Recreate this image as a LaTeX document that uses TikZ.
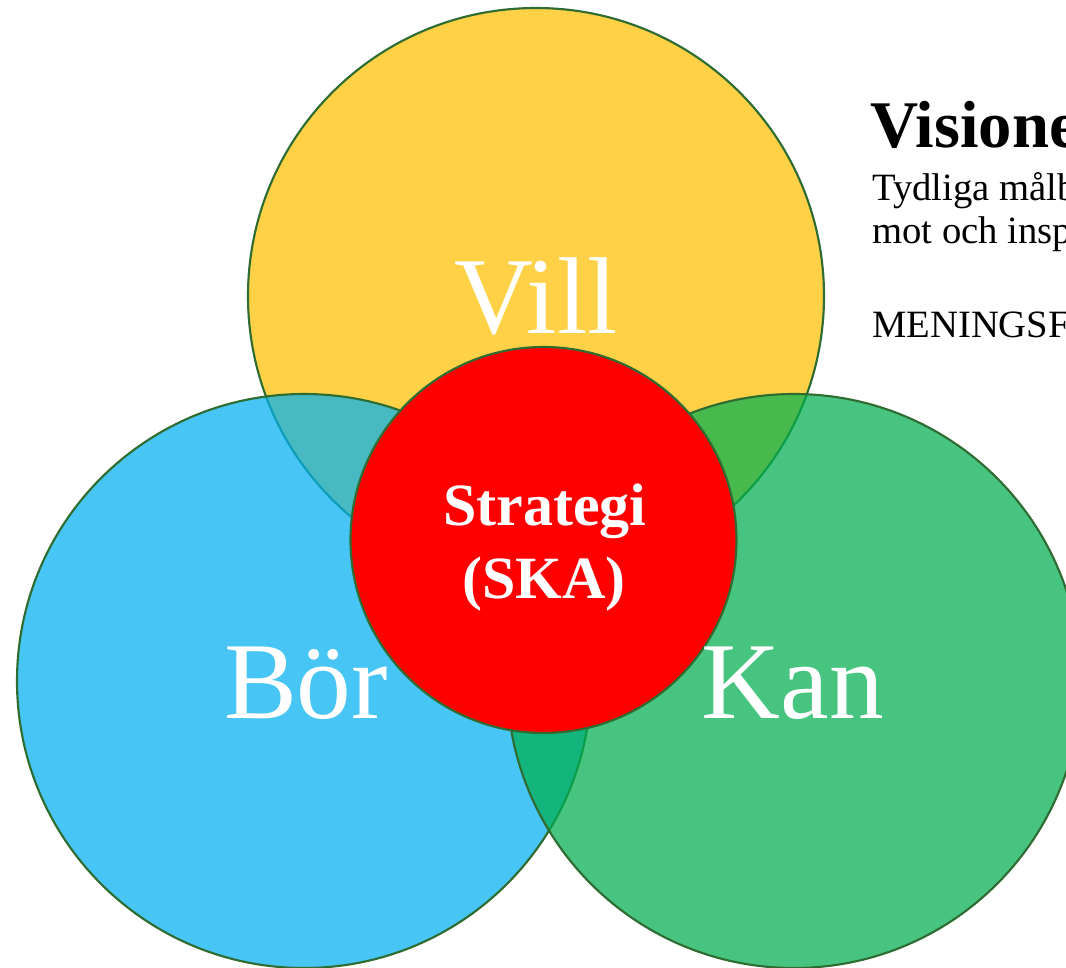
\documentclass[tikz,border=0pt]{standalone}
\usepackage{fontspec}
\setmainfont{Liberation Serif}
\definecolor{cyel}{RGB}{255,192,0}
\definecolor{cblu}{RGB}{0,176,240}
\definecolor{cgrn}{RGB}{0,176,80}
\definecolor{cline}{RGB}{46,108,50}
\begin{document}
\begin{tikzpicture}[x=0.75pt,y=-0.75pt,
  venn/.style={circle, draw=cline, line width=1.6pt, fill opacity=0.72, draw opacity=1, inner sep=0pt, outer sep=0pt, minimum size=#1},
  bigword/.style={text=white, font=\fontsize{82}{90}\selectfont, anchor=base, inner sep=0pt},
  midword/.style={text=white, font=\fontsize{45}{54}\selectfont\bfseries, anchor=base, inner sep=0pt},
  sidetext/.style={anchor=base west, inner sep=0pt, font=\fontsize{29}{34}\selectfont}]
\useasboundingbox (0,0) rectangle (1066,967);
\clip (0,0) rectangle (1066,967);
\fill[white] (0,0) rectangle (1066,967);
\node[venn=432pt, fill=cyel] (vill) at (536,296) {};
\node[venn=430.5pt, fill=cblu] (bor) at (304,681) {};
\node[venn=430.5pt, fill=cgrn] (kan) at (794,681) {};
\node[circle, draw=cline, line width=1.6pt, fill=red, inner sep=0pt, minimum size=289.5pt] (ska) at (543.5,540) {};
\node[bigword] (tvill) at (536,333) {Vill};
\node[bigword] (tbor) at (306,718) {Bör};
\node[bigword] (tkan) at (793,718) {Kan};
\node[midword] (tstrat) at (545,525) {Strategi};
\node[midword] (tska) at (544,598) {(SKA)};
\node[anchor=base west, inner sep=0pt, font=\fontsize{50}{60}\selectfont\bfseries] (title) at (870,147) {Visione};
\node[sidetext] (l1) at (872,200) {Tydliga målbil};
\node[sidetext] (l2) at (872,243) {mot och inspi};
\node[sidetext] (l3) at (872,337) {MENINGSF};
\end{tikzpicture}
\end{document}
